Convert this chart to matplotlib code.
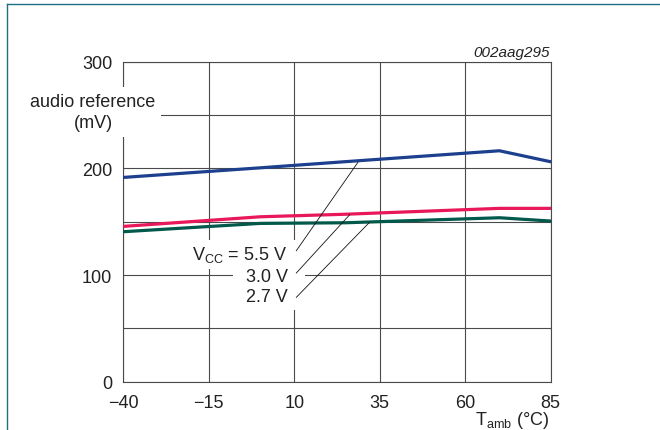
import matplotlib
matplotlib.use("Agg")
import matplotlib.pyplot as plt
from matplotlib.lines import Line2D
from matplotlib.patches import Rectangle

plt.rcParams['font.family'] = ['Liberation Sans', 'DejaVu Sans']
plt.rcParams['mathtext.fontset'] = 'custom'
plt.rcParams['mathtext.rm'] = 'Liberation Sans'

# data
temp = [-40, 0, 25, 70, 85]
vcc_55 = [191.5, 200.5, 206.3, 216.5, 206.2]
vcc_30 = [145.6, 154.6, 157.0, 162.5, 162.5]
vcc_27 = [140.6, 148.4, 149.0, 153.7, 150.6]

xticks = [-40, -15, 10, 35, 60, 85]
yticks = [0, 50, 100, 150, 200, 250, 300]
ylabels = ['0', '', '100', '', '200', '', '300']

grid_c = '#4a4a4a'
txt_c = '#222222'

fig = plt.figure(figsize=(6.6, 4.31), dpi=100)
ax = fig.add_axes([0.1868, 0.1121, 0.6476, 0.7424])

ax.plot(temp, vcc_55, color='#1c3f8e', lw=2.3, zorder=4)
ax.plot(temp, vcc_30, color='#e8185a', lw=2.3, zorder=4)
ax.plot(temp, vcc_27, color='#00594a', lw=2.3, zorder=4)

ax.set_xlim(-40, 85)
ax.set_ylim(0, 300)
ax.set_xticks(xticks)
ax.set_yticks(yticks)
ax.set_yticklabels(ylabels)
ax.grid(True, color=grid_c, lw=0.8)
ax.set_axisbelow(True)
for s in ax.spines.values():
    s.set_color(grid_c)
    s.set_linewidth(0.8)
ax.tick_params(length=0, labelsize=13, labelcolor=txt_c)
ax.tick_params(axis='y', pad=8)
ax.tick_params(axis='x', pad=9)

# white area behind the curve labels
ax.add_patch(Rectangle((-22.0, 105.6), 35.0, 27.2, fc='white', ec='none', zorder=2))
ax.add_patch(Rectangle((-8.0, 67.2), 21.0, 38.4, fc='white', ec='none', zorder=2))

# curve labels with leader lines
ax.text(8.1, 115, 'V$_{\\mathregular{CC}}$ = 5.5 V', ha='right', va='baseline',
        fontsize=13, color=txt_c, zorder=3)
ax.text(8.1, 94, '3.0 V', ha='right', va='baseline', fontsize=13, color=txt_c, zorder=3)
ax.text(8.1, 76, '2.7 V', ha='right', va='baseline', fontsize=13, color=txt_c, zorder=3)
ax.plot([10.6, 28.6], [122.8, 205.6], color='#111111', lw=0.6, zorder=5)
ax.plot([10.6, 26.2], [101.9, 156.5], color='#111111', lw=0.6, zorder=5)
ax.plot([10.6, 32.0], [79.1, 149.4], color='#111111', lw=0.6, zorder=5)

# axis titles
fig.text(0.141, 0.738, 'audio reference\n(mV)', ha='center', va='center',
         fontsize=13, color=txt_c, linespacing=1.35,
         bbox=dict(boxstyle='square,pad=0.3', fc='white', ec='none'), zorder=5)
fig.text(549 / 660, 1 - 425 / 431, 'T$_{\\mathregular{amb}}$ (°C)', ha='right', va='baseline',
         fontsize=13, color=txt_c)
fig.text(550 / 660, 1 - 57 / 431, '002aag295', ha='right', va='baseline',
         fontsize=11, style='italic', color=txt_c)

# frame lines
fig.add_artist(Line2D([6.7 / 660, 1], [1 - 5 / 431, 1 - 5 / 431], color='#1f6f80', lw=1.0))
fig.add_artist(Line2D([6.7 / 660, 6.7 / 660], [0, 1 - 5 / 431], color='#1f6f80', lw=1.0))

fig.savefig('out.png', dpi=100)
